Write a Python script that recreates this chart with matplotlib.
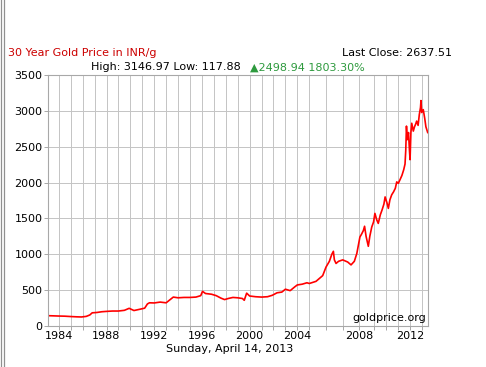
import numpy as np
import matplotlib.pyplot as plt
from matplotlib.lines import Line2D

# data (year, INR per gram)
years = [1983.1, 1983.5, 1984.0, 1984.5, 1985.0, 1985.5, 1985.9, 1986.3, 1986.6, 1986.8,
         1987.2, 1987.6, 1988.0, 1988.5, 1989.0, 1989.5, 1989.9, 1990.3, 1990.8, 1991.2,
         1991.43, 1991.6, 1992.0, 1992.5, 1993.0, 1993.3, 1993.6, 1994.0, 1994.5, 1995.0,
         1995.5, 1995.9, 1996.05, 1996.3, 1996.8, 1997.2, 1997.6, 1997.9, 1998.2, 1998.6,
         1999.0, 1999.4, 1999.55, 1999.75, 2000.0, 2000.5, 2001.0, 2001.5, 2001.9, 2002.3,
         2002.7, 2003.0, 2003.4, 2003.8, 2004.0, 2004.4, 2004.8, 2005.0, 2005.4, 2005.8,
         2006.0, 2006.2, 2006.35, 2006.44, 2006.5, 2006.6, 2006.75, 2007.0, 2007.3, 2007.5,
         2007.7, 2007.85, 2008.04, 2008.15, 2008.27, 2008.35, 2008.45, 2008.6, 2008.7, 2008.83,
         2008.95, 2009.05, 2009.2, 2009.33, 2009.5, 2009.65, 2009.8, 2009.9, 2010.05, 2010.17,
         2010.3, 2010.45, 2010.6, 2010.75, 2010.87, 2011.0, 2011.14, 2011.3, 2011.45, 2011.56,
         2011.62, 2011.68, 2011.75, 2011.85, 2011.93, 2011.98, 2012.05, 2012.12, 2012.25, 2012.35,
         2012.45, 2012.53, 2012.65, 2012.75, 2012.85, 2012.89, 2012.95, 2013.08, 2013.2, 2013.3,
         2013.45]
price = [140, 138, 135, 133, 128, 124, 122, 130, 150, 180,
         185, 195, 200, 205, 205, 215, 243, 212, 230, 245,
         304, 320, 318, 330, 320, 360, 400, 390, 395, 395,
         400, 420, 480, 450, 440, 420, 385, 365, 380, 395,
         390, 380, 355, 455, 415, 405, 400, 405, 425, 460,
         470, 510, 490, 545, 570, 580, 600, 590, 620, 700,
         820, 900, 1000, 1040, 920, 870, 900, 920, 890, 850,
         900, 1010, 1240, 1280, 1330, 1390, 1250, 1110, 1250, 1380,
         1450, 1570, 1480, 1430, 1550, 1620, 1700, 1800, 1720, 1640,
         1760, 1830, 1870, 1920, 2010, 1990, 2040, 2100, 2180, 2260,
         2450, 2790, 2600, 2700, 2450, 2320, 2700, 2830, 2720, 2780,
         2820, 2860, 2800, 2950, 3050, 3147, 2980, 3020, 2900, 2780,
         2700]

yticks = [0, 500, 1000, 1500, 2000, 2500, 3000, 3500]
xlabels = [1984, 1988, 1992, 1996, 2000, 2004, 2008, 2012]
grid_years = list(range(1984, 2014))

# x axis of the source is not uniform in time after 2004
knot_yr = [1983, 1984, 2004, 2005, 2006, 2007, 2008, 2009, 2010, 2011, 2012, 2013, 2014]
knot_px = [46.7, 58.7, 297.3, 309.3, 326.0, 342.7, 359.3, 374.3, 386.3, 398.3, 410.3, 422.3, 434.3]


def fwd(x):
    return np.interp(x, knot_yr, knot_px)


def inv(x):
    return np.interp(x, knot_px, knot_yr)


W, H = 486, 367
fig = plt.figure(figsize=(W / 100, H / 100), dpi=100)
ax = fig.add_axes([48 / W, (H - 325.7) / H, (428.3 - 48) / W, 250.4 / H])
ax.set_xscale('function', functions=(fwd, inv))

ax.plot(years, price, color='#ff0000', lw=1.2)

ax.set_xlim(1983.1, 2013.5)
ax.set_ylim(0, 3500)
ax.set_yticks(yticks)
ax.set_xticks(grid_years)
ax.set_xticklabels([str(y) if y in xlabels else '' for y in grid_years])
ax.grid(True, color='#c4c4c4', lw=0.7)
ax.set_axisbelow(True)
for s in ax.spines.values():
    s.set_color('#a8a8a8')
    s.set_linewidth(0.8)
ax.tick_params(colors='#a8a8a8', labelcolor='black', labelsize=8, length=3, width=0.7, pad=1)

ax.text(0.995, 0.012, 'goldprice.org', transform=ax.transAxes, ha='right', va='bottom', fontsize=8)

fig.text(8 / W, 1 - 53 / H, '30 Year Gold Price in INR/g', color='#cc0000', fontsize=8, va='center')
fig.text(452 / W, 1 - 53 / H, 'Last Close: 2637.51', color='black', fontsize=8, va='center', ha='right')
fig.text(91 / W, 1 - 67.5 / H, 'High: 3146.97 Low: 117.88 ', color='black', fontsize=8, va='center')
fig.text(250 / W, 1 - 67.5 / H, '\u25b22498.94 1803.30%', color='#2e9a3e', fontsize=8, va='center')
fig.text(230 / W, 1 - 349.5 / H, 'Sunday, April 14, 2013', color='black', fontsize=8, va='center', ha='center')

# border lines on the left of the image
fig.add_artist(Line2D([1 / W, 1 / W], [0, 1], color='#909090', lw=0.9))
fig.add_artist(Line2D([3.5 / W, 3.5 / W], [0, 1], color='#909090', lw=0.9))

fig.savefig('out.png', dpi=100)
